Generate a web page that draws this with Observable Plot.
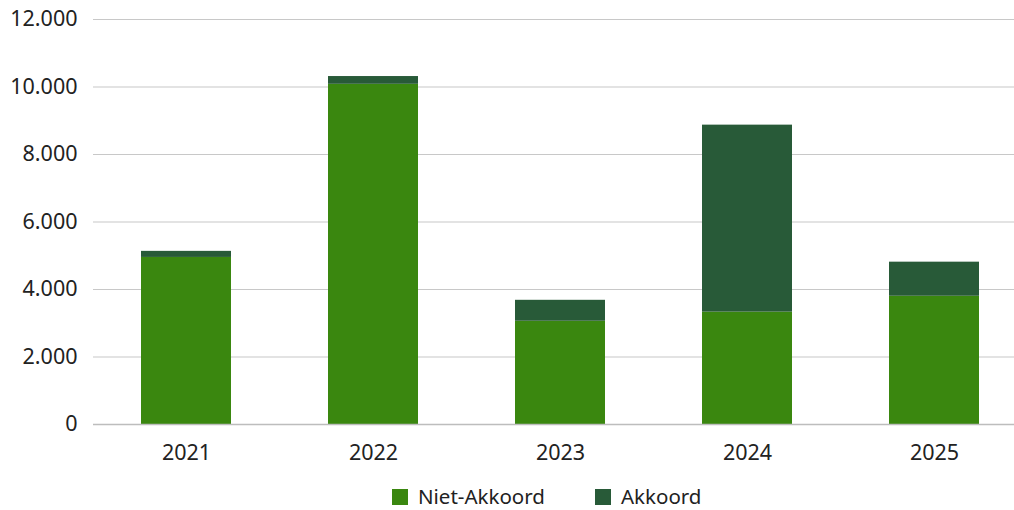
<!DOCTYPE html>
<html>
<head>
<meta charset="utf-8">
<script src="https://cdn.jsdelivr.net/npm/d3@7"></script>
<script src="https://cdn.jsdelivr.net/npm/@observablehq/plot@0.6"></script>
<style>
  html, body { margin: 0; padding: 0; background: #fff; }
  body { width: 1014px; font-family: "Noto Sans", sans-serif; }
  #chart { height: 470px; }
  #chart svg { display: block; }
  #legend { position: relative; height: 40px; }
  .item { position: absolute; top: 13px; display: flex; align-items: center; font-size: 20.5px; line-height: 27px; color: #222; }
  .sw { width: 16px; height: 16px; margin-right: 10px; }
</style>
</head>
<body>
<div id="chart"></div>
<div id="legend"></div>
<script>
const years = ["2021", "2022", "2023", "2024", "2025"];
const series = ["Niet-Akkoord", "Akkoord"];
const colors = ["#3A870F", "#285A38"];
const nietAkkoord = [4950, 10080, 3060, 3330, 3800];
const akkoord = [180, 230, 620, 5540, 1010];
const yTicks = [0, 2000, 4000, 6000, 8000, 10000, 12000];

const rows = [];
years.forEach((y, i) => {
  rows.push({year: y, series: series[0], value: nietAkkoord[i]});
  rows.push({year: y, series: series[1], value: akkoord[i]});
});

const nl = d3.formatLocale({decimal: ",", thousands: ".", grouping: [3], currency: ["€", ""]});
const fmt = nl.format(",");

const chart = Plot.plot({
  width: 1014,
  height: 470,
  marginLeft: 93,
  marginRight: 0,
  marginTop: 19,
  marginBottom: 46,
  style: {fontFamily: "Noto Sans, sans-serif", fontSize: "21.5px", color: "#222", background: "#fff"},
  x: {domain: years, range: [92, 1027], paddingInner: 0.52, paddingOuter: 0.26, label: null, tickSize: 0, tickPadding: 20},
  y: {domain: [0, 12000], ticks: yTicks, tickFormat: fmt, label: null, tickSize: 0, tickPadding: 16},
  color: {domain: series, range: colors},
  marks: [
    Plot.ruleY(yTicks.filter(d => d > 0), {stroke: "#c8c8c8", strokeWidth: 1.2}),
    Plot.barY(rows, {x: "year", y: "value", fill: "series"}),
    Plot.ruleY([0], {stroke: "#bdbdbd", strokeWidth: 1.5})
  ]
});
document.getElementById("chart").appendChild(chart);

const legend = document.getElementById("legend");
const lefts = [392, 595];
series.forEach((s, i) => {
  const it = document.createElement("div");
  it.className = "item";
  it.style.left = lefts[i] + "px";
  const sw = document.createElement("div");
  sw.className = "sw";
  sw.style.background = colors[i];
  const t = document.createElement("span");
  t.textContent = s;
  it.appendChild(sw);
  it.appendChild(t);
  legend.appendChild(it);
});
</script>
</body>
</html>
